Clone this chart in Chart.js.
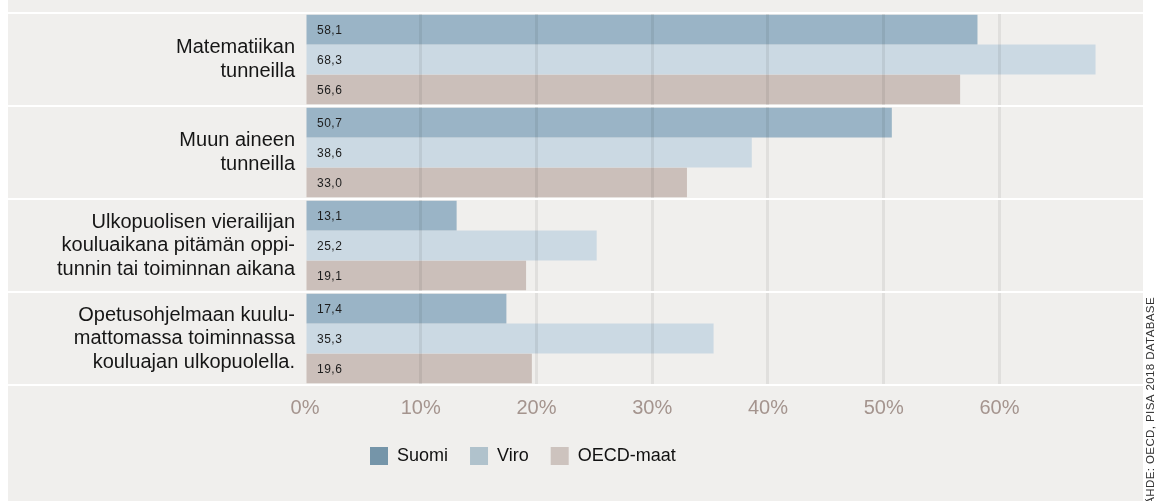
<!DOCTYPE html>
<html>
<head>
<meta charset="utf-8">
<script src="https://cdn.jsdelivr.net/npm/chart.js@4.4.1/dist/chart.umd.min.js"></script>
<style>
  html, body { margin: 0; padding: 0; background: #fff; }
  canvas { display: block; }
</style>
</head>
<body>
<canvas id="chart" width="1161" height="501"></canvas>
<script>
// kategoriat (monirivisinä)
const categories = [
	["Matematiikan", "tunneilla"],
	["Muun aineen", "tunneilla"],
	["Ulkopuolisen vierailijan", "kouluaikana pitämän oppi-", "tunnin tai toiminnan aikana"],
	["Opetusohjelmaan kuulu-", "mattomassa toiminnassa", "kouluajan ulkopuolella."]
];
const seriesNames = ["Suomi", "Viro", "OECD-maat"];
const suomi = [58.1, 50.7, 13.1, 17.4];
const viro = [68.3, 38.6, 25.2, 35.3];
const oecd = [56.6, 33.0, 19.1, 19.6];
const xTicks = [0, 10, 20, 30, 40, 50, 60];
const sourceText = "LÄHDE: OECD, PISA 2018 DATABASE";

const FONT = "'Liberation Sans', Arial, sans-serif";
const BG = '#f0efed';
const barColors = ['#9ab4c6', '#cbd9e3', '#cbbfba'];
const legendColors = ['#7595a9', '#b0c2cc', '#cdc3be'];

// tausta, arvot, erottimet ja lähde
const backdrop = {
	id: 'backdrop',
	afterLayout(chart) {
		// selite vasemmalle kuten alkuperäisessä
		const lg = chart.legend;
		const pad = lg.options.labels.padding;
		const cur = (lg.left + pad + lg.right - lg.lineWidths[0]) / 2;
		const dx = 370 - cur;
		lg.left += dx;
		lg.right += dx;
		const dy = 447 - (lg.top + pad);
		lg.top += dy;
		lg.bottom += dy;
	},
	beforeDraw(chart) {
		const ctx = chart.ctx;
		ctx.save();
		ctx.fillStyle = '#fff';
		ctx.fillRect(0, 0, chart.width, chart.height);
		ctx.fillStyle = BG;
		ctx.fillRect(8, 0, chart.chartArea.right - 8, chart.height);
		ctx.restore();
	},
	afterDatasetsDraw(chart) {
		const { ctx, chartArea } = chart;
		ctx.save();
		ctx.letterSpacing = '0.5px';
		ctx.font = '12px ' + FONT;
		ctx.fillStyle = '#1c1c1c';
		ctx.textAlign = 'left';
		ctx.textBaseline = 'middle';
		chart.data.datasets.forEach((ds, i) => {
			chart.getDatasetMeta(i).data.forEach((bar, j) => {
				ctx.fillText(ds.data[j].toFixed(1).replace('.', ','), chartArea.left + 12, bar.y + 1);
			});
		});
		ctx.restore();
	},
	afterDraw(chart) {
		const { ctx, chartArea: a } = chart;
		const band = (a.bottom - a.top) / categories.length;
		ctx.save();
		// valkoiset erotinviivat
		ctx.fillStyle = '#fff';
		for (let i = 0; i <= categories.length; i++) {
			const y = a.top + i * band;
			ctx.fillRect(8, y - 1, a.right - 8, 2);
		}
		// lähde pystyyn
		ctx.letterSpacing = '0.4px';
		ctx.font = '11.5px ' + FONT;
		ctx.fillStyle = '#333';
		ctx.translate(1154, 297);
		ctx.rotate(-Math.PI / 2);
		ctx.textAlign = 'right';
		ctx.textBaseline = 'alphabetic';
		ctx.fillText(sourceText, 0, 0);
		ctx.restore();
	}
};

new Chart(document.getElementById('chart'), {
	type: 'bar',
	data: {
		labels: categories,
		datasets: [
			{ label: seriesNames[0], data: suomi, backgroundColor: barColors[0] },
			{ label: seriesNames[1], data: viro, backgroundColor: barColors[1] },
			{ label: seriesNames[2], data: oecd, backgroundColor: barColors[2] }
		]
	},
	options: {
		indexAxis: 'y',
		responsive: false,
		animation: false,
		devicePixelRatio: 1,
		layout: { padding: { left: 0, right: 18, top: 13, bottom: 0 } },
		datasets: { bar: { categoryPercentage: 0.962, barPercentage: 1, borderWidth: 0 } },
		scales: {
			x: {
				min: 0,
				max: 72.4,
				afterBuildTicks(scale) { scale.ticks = xTicks.map(v => ({ value: v })); },
				afterFit(scale) { scale.height = 66; },
				border: { display: false },
				grid: {
					z: 1,
					color: c => (c.tick && c.tick.value === 0) ? 'rgba(0,0,0,0)' : 'rgba(0,0,0,0.065)',
					lineWidth: 3,
					drawTicks: false
				},
				ticks: {
					color: '#a4948e',
					font: { family: FONT, size: 20 },
					padding: 11,
					callback: v => v + '%'
				}
			},
			y: {
				afterFit(scale) {
					scale.width = 305;
					scale.paddingTop = 0;
					scale.paddingBottom = 0;
				},
				border: { display: false },
				grid: { display: false, drawTicks: false },
				ticks: {
					color: '#161616',
					font: { family: FONT, size: 20, lineHeight: 1.175 },
					padding: 10
				}
			}
		},
		plugins: {
			legend: {
				position: 'bottom',
				labels: {
					boxWidth: 18,
					boxHeight: 18,
					padding: 22,
					color: '#111',
					font: { family: FONT, size: 18 },
					generateLabels(chart) {
						const items = Chart.defaults.plugins.legend.labels.generateLabels(chart);
						items.forEach((it, i) => {
							it.fillStyle = legendColors[i];
							it.strokeStyle = legendColors[i];
							it.lineWidth = 0;
						});
						return items;
					}
				}
			},
			tooltip: { enabled: false }
		}
	},
	plugins: [backdrop]
});
</script>
</body>
</html>
